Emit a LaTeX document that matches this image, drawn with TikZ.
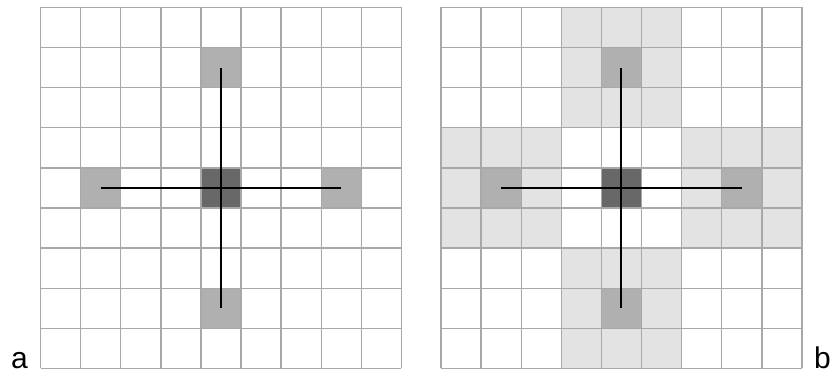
\documentclass[tikz,border=0pt]{standalone}
\usepackage{fontspec}
\setmainfont{Liberation Sans}
\definecolor{gridc}{HTML}{A8A8A8}
\definecolor{lightc}{HTML}{E3E3E3}
\definecolor{medc}{HTML}{B0B0B0}
\definecolor{darkc}{HTML}{686868}
\tikzset{
  gridline/.style={draw=gridc, line width=1.4pt},
  cell/.style={rectangle, inner sep=0pt, minimum size=40.1pt, draw=none},
  medcell/.style={cell, fill=medc},
  darkcell/.style={cell, fill=darkc},
  crossline/.style={draw=black, line width=2pt},
  lbl/.style={font=\fontsize{30}{30}\selectfont, inner sep=0pt, anchor=base}
}
\begin{document}
\begin{tikzpicture}[x=1pt,y=-1pt]
\useasboundingbox[fill=white] (0,0) rectangle (833,374);
\def\cs{40.1}
\def\Y{7.5}
% ---- grid b light fills ----
\foreach \c/\r in {3/0,4/0,5/0,3/1,5/1,3/2,4/2,5/2,
                   3/6,4/6,5/6,3/7,5/7,3/8,4/8,5/8,
                   0/3,1/3,2/3,0/4,2/4,0/5,1/5,2/5,
                   6/3,7/3,8/3,6/4,8/4,6/5,7/5,8/5}
  \fill[lightc] (441+\c*\cs, \Y+\r*\cs) rectangle ++(\cs,\cs);
% ---- grid a cells ----
\node[medcell] (aN) at (40.5+4.5*\cs, \Y+1.5*\cs) {};
\node[medcell] (aS) at (40.5+4.5*\cs, \Y+7.5*\cs) {};
\node[medcell] (aW) at (40.5+1.5*\cs, \Y+4.5*\cs) {};
\node[medcell] (aE) at (40.5+7.5*\cs, \Y+4.5*\cs) {};
\node[darkcell] (aC) at (40.5+4.5*\cs, \Y+4.5*\cs) {};
% ---- grid b cells ----
\node[medcell] (bN) at (441+4.5*\cs, \Y+1.5*\cs) {};
\node[medcell] (bS) at (441+4.5*\cs, \Y+7.5*\cs) {};
\node[medcell] (bW) at (441+1.5*\cs, \Y+4.5*\cs) {};
\node[medcell] (bE) at (441+7.5*\cs, \Y+4.5*\cs) {};
\node[darkcell] (bC) at (441+4.5*\cs, \Y+4.5*\cs) {};
% ---- grid lines ----
\foreach \X in {40.5,441}{
  \foreach \i in {0,...,9}{
    \draw[gridline] (\X+\i*\cs, \Y) -- (\X+\i*\cs, \Y+9*\cs);
    \draw[gridline] (\X, \Y+\i*\cs) -- (\X+9*\cs, \Y+\i*\cs);
  }
}
% ---- cross lines ----
\draw[crossline] (aN.center) -- (aS.center);
\draw[crossline] (aW.center) -- (aE.center);
\draw[crossline] (bN.center) -- (bS.center);
\draw[crossline] (bW.center) -- (bE.center);
% ---- labels ----
\node[lbl] (la) at (19.5,368) {a};
\node[lbl] (lb) at (822.5,368) {b};
\end{tikzpicture}
\end{document}
